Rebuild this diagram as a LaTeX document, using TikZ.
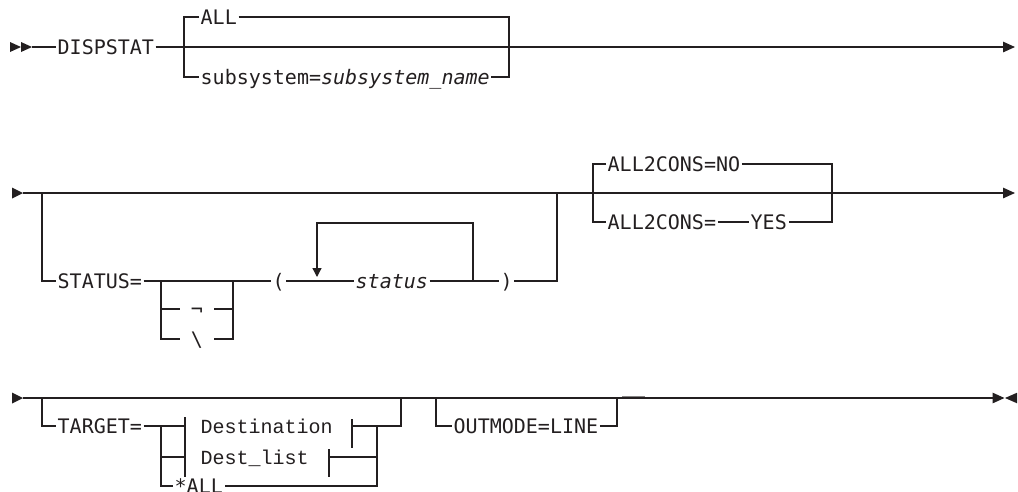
\documentclass[tikz,border=0pt]{standalone}
\usepackage{fontspec}
\usetikzlibrary{arrows.meta}
\newfontfamily\kwfont{DejaVu Sans Mono}
\newfontfamily\dstfont{Liberation Mono}
\definecolor{ink}{RGB}{35,31,32}

\begin{document}
\begin{tikzpicture}[x=1pt,y=-1pt,
  rail/.style={draw=ink, line width=1.3pt},
  kw/.style={font=\kwfont\fontsize{20}{24}\selectfont, text=ink, inner xsep=1.5pt,
    inner ysep=0pt, text height=15pt, text depth=0pt, anchor=west},
  dst/.style={kw, font=\dstfont\fontsize{20}{24}\selectfont},
  endtip/.style={-{Triangle[length=12pt,width=10.5pt]}},
  looptip/.style={-{Triangle[length=9pt,width=9pt]}}]

\useasboundingbox (0,0) rectangle (1018,491);
\fill[white] (0,0) rectangle (1018,491);
\clip (0,0) rectangle (1018,491);

% ---------- first line: DISPSTAT ----------
\coordinate (s1) at (32,47);
\coordinate (e1) at (1015,47);
\fill[ink] (10,42) -- (21,47) -- (10,52) -- cycle;
\fill[ink] (21,42) -- (32,47) -- (21,52) -- cycle;
\node[kw] (dispstat) at (56,47) {DISPSTAT};
\coordinate (b1l) at (184,47);
\coordinate (b1r) at (509,47);
\node[kw] (all) at (199,17) {ALL};
\node[kw] (subsys) at (199,77) {subsystem=\textit{subsystem\_name}};
\draw[rail] (s1) -- (dispstat.west);
\draw[rail,endtip] (dispstat.east) -- (e1);
\draw[rail] (all.west) -| (b1l) |- (subsys.west);
\draw[rail] (all.east) -| (b1r) |- (subsys.east);

% ---------- second line: STATUS / ALL2CONS ----------
\coordinate (s2) at (23,193);
\coordinate (e2) at (1015,193);
\fill[ink] (12,187.5) -- (23,193) -- (12,198.5) -- cycle;
\draw[rail,endtip] (s2) -- (e2);

\coordinate (o2l) at (42,193);
\coordinate (o2r) at (557,193);
\node[kw] (status) at (56,281) {STATUS=};
\coordinate (c2l) at (161,281);
\coordinate (c2r) at (233,281);
\node[kw,inner xsep=11pt,anchor=center] (neg) at (197,309) {¬};
\node[kw,inner xsep=11pt,anchor=center] (bsl) at (197,339) {\textbackslash};
\node[kw] (lpar) at (271,281) {(};
\node[kw] (stat) at (354,281) {\textit{status}};
\node[kw] (rpar) at (499,281) {)};
\coordinate (l2l) at (317,223);
\coordinate (l2r) at (473,281);
\coordinate (l2tip) at (317,277);

\draw[rail] (o2l) |- (status.west);
\draw[rail] (status.east) -- (lpar.west);
\draw[rail] (c2l) |- (bsl.west);
\draw[rail] (c2r) |- (bsl.east);
\draw[rail] (neg.west -| c2l) -- (neg.west);
\draw[rail] (neg.east) -- (neg.east -| c2r);
\draw[rail] (lpar.east) -- (stat.west);
\draw[rail] (stat.east) -- (rpar.west);
\draw[rail,looptip] (l2r) |- (l2l) -- (l2tip);
\draw[rail] (rpar.east) -| (o2r);

\coordinate (a2l) at (593,193);
\coordinate (a2r) at (832,193);
\node[kw] (no) at (606,164) {ALL2CONS=NO};
\node[kw] (yeskey) at (606,222) {ALL2CONS=};
\node[kw] (yes) at (749,222) {YES};
\draw[rail] (no.west) -| (a2l) |- (yeskey.west);
\draw[rail] (no.east) -| (a2r) |- (yes.east);
\draw[rail] (yeskey.east) -- (yes.west);

% ---------- third line: TARGET / OUTMODE ----------
\coordinate (s3) at (23,398);
\coordinate (e3) at (1004.5,398);
\fill[ink] (12,392.5) -- (23,398) -- (12,403.5) -- cycle;
\draw[rail,endtip] (s3) -- (e3);
\fill[ink] (1017,392.75) -- (1005,398) -- (1017,403.25) -- cycle;

\coordinate (o3l) at (42,398);
\coordinate (o3r) at (401,398);
\node[kw] (target) at (56,426) {TARGET=};
\coordinate (c3l) at (161,426);
\coordinate (c3r) at (377,426);
\coordinate (bartop) at (185,417);
\coordinate (barbot) at (185,477);
\node[dst] (dest) at (199,426) {Destination};
\node[dst] (dlist) at (199,457) {Dest\_list};
\node[kw] (star) at (173,486) {*ALL};
\coordinate (dtee) at (352,426);
\coordinate (ltee) at (329,457);

\draw[rail] (o3l) |- (target.west);
\draw[rail] (target.east) -- (dest.west -| bartop);
\draw[rail] (bartop) -- (barbot);
\draw[rail] (c3l) |- (star.west);
\draw[rail] (dlist.west -| c3l) -- (dlist.west -| bartop);
\draw[rail] ([yshift=7pt]dtee) -- ([yshift=-22pt]dtee);
\draw[rail] (dtee) -| (o3r);
\draw[rail] ([yshift=8pt]ltee) -- ([yshift=-20pt]ltee);
\draw[rail] (ltee) -- (ltee -| c3r);
\draw[rail] (c3r) |- (star.east);

\coordinate (m3l) at (436,398);
\coordinate (m3r) at (617,398);
\node[kw] (outmode) at (452,426) {OUTMODE=LINE};
\draw[rail] (m3l) |- (outmode.west);
\draw[rail] (outmode.east) -| (m3r);
% short overprinted dash just past the OUTMODE group
\draw[draw=ink!55, line width=1.3pt] (622,396.8) -- (645,396.8);
\end{tikzpicture}
\end{document}
